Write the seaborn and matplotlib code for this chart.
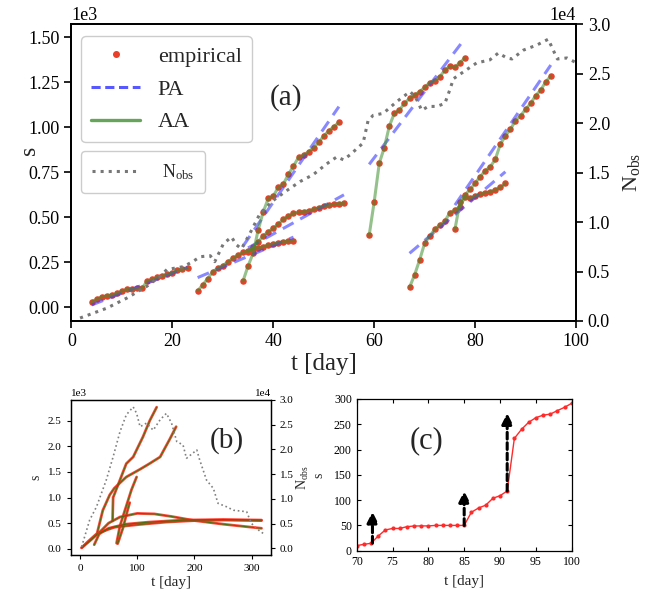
import numpy as np
import pandas as pd
import matplotlib
matplotlib.use("Agg")
import matplotlib.pyplot as plt
from matplotlib.lines import Line2D
from matplotlib.ticker import MultipleLocator
import seaborn as sns

# ---------------- panel (a) data (s in units of 1e3, N in units of 1e4) ----------------
seg_start = [4, 25, 35, 34, 59, 67, 76]
emp_1 = [0.030, 0.045, 0.058, 0.064, 0.068, 0.078, 0.090, 0.100, 0.100, 0.105,
         0.107, 0.146, 0.155, 0.166, 0.174, 0.183, 0.192, 0.206, 0.211, 0.218]
emp_2 = [0.092, 0.124, 0.160, 0.198, 0.217, 0.231, 0.253, 0.272, 0.290, 0.305,
         0.315, 0.325, 0.330, 0.337, 0.346, 0.352, 0.359, 0.364, 0.368, 0.370]
emp_3 = [0.310, 0.335, 0.365, 0.396, 0.420, 0.439, 0.463, 0.489, 0.507, 0.522,
         0.528, 0.531, 0.537, 0.544, 0.553, 0.563, 0.567, 0.572, 0.576, 0.578]
emp_4 = [0.146, 0.230, 0.300, 0.430, 0.530, 0.605, 0.618, 0.667, 0.685, 0.739,
         0.785, 0.833, 0.846, 0.865, 0.887, 0.917, 0.952, 0.981, 1.003, 1.028]
emp_5 = [0.400, 0.587, 0.800, 0.887, 1.007, 1.078, 1.096, 1.133, 1.161, 1.180,
         1.198, 1.222, 1.248, 1.259, 1.281, 1.318, 1.340, 1.333, 1.360, 1.386]
emp_6 = [0.111, 0.180, 0.263, 0.356, 0.396, 0.433, 0.457, 0.479, 0.526, 0.540,
         0.559, 0.614, 0.605, 0.618, 0.628, 0.637, 0.642, 0.652, 0.667, 0.689]
emp_7 = [0.433, 0.585, 0.625, 0.655, 0.690, 0.726, 0.759, 0.781, 0.822, 0.906,
         0.952, 0.989, 1.037, 1.064, 1.100, 1.133, 1.176, 1.207, 1.253, 1.285]
empirical = [emp_1, emp_2, emp_3, emp_4, emp_5, emp_6, emp_7]

pa_t0 = [4, 25, 35, 34, 59, 67, 76]
pa_t1 = [23, 44, 54, 53, 78, 86, 95]
pa_s0 = [0.013, 0.165, 0.330, 0.340, 0.794, 0.300, 0.568]
pa_s1 = [0.222, 0.390, 0.625, 1.115, 1.494, 0.753, 1.346]

nobs_t = [1.7, 7, 10.9, 14.9, 17.5, 18.9, 22.2, 24, 25.5, 27.5, 28.4, 30.1, 31.7, 32.7,
          33.7, 35.4, 37.4, 40, 42.7, 45.3, 47.9, 50.6, 52.6, 53.9, 55.2, 57.8, 58.8,
          59.8, 61.8, 64.5, 67.1, 68.1, 68.8, 69.4, 70.7, 72.4, 74, 75, 75.7, 77.7,
          80.3, 82.9, 84.6, 86.3, 87.3, 89.6, 92.2, 94.5, 95.2, 96.3, 98.2, 100.5]
nobs_v = [0.03, 0.13, 0.23, 0.35, 0.45, 0.52, 0.55, 0.60, 0.65, 0.66, 0.60, 0.78, 0.85, 0.77,
          0.73, 0.89, 1.09, 1.22, 1.32, 1.41, 1.48, 1.59, 1.66, 1.63, 1.68, 1.80, 2.03,
          2.08, 2.10, 2.22, 2.32, 2.27, 2.20, 2.13, 2.17, 2.17, 2.20, 2.34, 2.45, 2.52,
          2.61, 2.64, 2.71, 2.66, 2.65, 2.74, 2.79, 2.85, 2.77, 2.65, 2.66, 2.60]

# ---------------- panel (b) data ----------------
b_nobs_t = [3, 17, 29, 46, 58, 70, 81, 93, 99, 105, 116, 128, 140, 151, 160, 169, 180,
            186, 204, 209, 221, 233, 241, 256, 268, 291, 299, 308, 320]
b_nobs_v = [0.03, 0.57, 0.84, 1.38, 1.85, 2.36, 2.70, 2.86, 2.73, 2.46, 2.53, 2.39, 2.60,
            2.73, 2.53, 2.16, 2.09, 1.82, 1.99, 1.79, 1.38, 1.21, 0.91, 0.84, 0.77, 0.74,
            0.51, 0.40, 0.30]
b_t1 = [3, 15, 30, 40, 52, 60, 81, 105, 120, 140, 157, 168]
b_s1 = [0.02, 0.15, 0.30, 0.75, 1.05, 1.18, 1.40, 1.55, 1.65, 1.79, 2.14, 2.38]
b_t2 = [57, 58, 65, 81, 93, 110, 122, 134]
b_s2 = [0.55, 1.00, 1.20, 1.66, 1.79, 2.18, 2.50, 2.76]
b_t3 = [64, 70, 80, 90, 99]
b_s3 = [0.11, 0.45, 0.80, 1.15, 1.40]
b_t4 = [66, 75, 82, 87]
b_s4 = [0.10, 0.40, 0.70, 0.90]
b_t5 = [3, 20, 35, 50, 70, 100, 130, 160, 200, 250, 317]
b_s5 = [0.02, 0.18, 0.33, 0.50, 0.62, 0.69, 0.68, 0.63, 0.55, 0.48, 0.40]
b_t6 = [25, 35, 60, 100, 150, 200, 250, 317]
b_s6 = [0.08, 0.32, 0.42, 0.47, 0.52, 0.55, 0.56, 0.55]
b_t7 = [35, 50, 80, 120, 180, 250, 317]
b_s7 = [0.30, 0.40, 0.48, 0.52, 0.56, 0.57, 0.56]
b_curves = [(b_t1, b_s1), (b_t2, b_s2), (b_t3, b_s3), (b_t4, b_s4),
            (b_t5, b_s5), (b_t6, b_s6), (b_t7, b_s7)]

# ---------------- panel (c) data ----------------
c_t = list(range(70, 101))
c_s = [10, 12.6, 14.6, 29, 41, 44, 44, 47.5, 48.8, 49, 49, 50, 50, 50, 50, 50, 76, 84.4,
       90, 103.6, 108.8, 118, 222, 240, 254, 263, 268, 270, 277, 283.5, 291.5]
arrow_t = [72.2, 85.0, 91.0]
arrow_from = [15, 50, 118]
arrow_to = [77, 118, 272]

# ---------------- style ----------------
sns.set_theme(style="ticks")
plt.rcParams["font.family"] = ["Liberation Serif", "DejaVu Serif"]
plt.rcParams["mathtext.fontset"] = "custom"
plt.rcParams["mathtext.rm"] = "Liberation Serif"
plt.rcParams["mathtext.it"] = "Liberation Serif:italic"
plt.rcParams["axes.edgecolor"] = "black"
plt.rcParams["xtick.color"] = "black"
plt.rcParams["ytick.color"] = "black"

RED = "#e8402a"
PA_C = "#3b3bff"
AA_C = "#3f8f2f"
GRAY = "#777777"

fig = plt.figure(figsize=(6.47, 5.94), dpi=100)

# ================= panel (a) =================
ax = fig.add_axes([0.1105, 0.4596, 0.7798, 0.4994])
ax2 = ax.twinx()

for t0, vals in zip(seg_start, empirical):
    df = pd.DataFrame({"t": np.arange(t0, t0 + len(vals)), "s": np.array(vals) * 1000})
    sns.scatterplot(data=df, x="t", y="s", ax=ax, color=RED, s=22, linewidth=0, zorder=2)
for a, b, c, d in zip(pa_t0, pa_t1, pa_s0, pa_s1):
    ax.plot([a, b], [c * 1000, d * 1000], color=PA_C, ls=(0, (4, 2.5)), lw=2.2, alpha=0.6, zorder=3)
for t0, vals in zip(seg_start, empirical):
    df = pd.DataFrame({"t": np.arange(t0, t0 + len(vals)), "s": np.array(vals) * 1000})
    sns.lineplot(data=df, x="t", y="s", ax=ax, color=AA_C, lw=2.2, alpha=0.55, zorder=4)

ndf = pd.DataFrame({"t": nobs_t, "n": np.array(nobs_v) * 1e4})
sns.lineplot(data=ndf, x="t", y="n", ax=ax2, color=GRAY, lw=2.2, ls=":", sort=False, zorder=1)

ax.set_xlim(0, 100)
ax.set_ylim(-76, 1572)
ax2.set_ylim(0, 30000)
ax.xaxis.set_major_locator(MultipleLocator(20))
ax.yaxis.set_major_locator(MultipleLocator(250))
ax2.yaxis.set_major_locator(MultipleLocator(5000))
ax.ticklabel_format(axis="y", style="sci", scilimits=(0, 0))
ax2.ticklabel_format(axis="y", style="sci", scilimits=(0, 0))
for a_ in (ax, ax2):
    a_.tick_params(labelsize=13, length=5, width=1.2, direction="out")
    a_.yaxis.get_offset_text().set_fontsize(13)
    for sp in a_.spines.values():
        sp.set_linewidth(1.3)
        sp.set_visible(True)
ax.set_xlabel("t [day]", fontsize=18, labelpad=2)
ax.set_ylabel("s", fontsize=17)
ax.yaxis.set_label_coords(-0.062, 0.576)
ax2.set_ylabel(r"$\mathrm{N_{obs}}$", fontsize=16, labelpad=8)
ax2.set_xlabel("")
ax.text(42.5, 1168, "(a)", fontsize=21, ha="center", va="center")

h1 = [Line2D([], [], color=RED, marker="o", ls="none", markersize=4),
      Line2D([], [], color=PA_C, ls=(0, (3, 1.5)), lw=2.2, alpha=0.85),
      Line2D([], [], color=AA_C, lw=2.4, alpha=0.8)]
leg1 = ax2.legend(h1, ["empirical", "PA", "AA"], loc="upper left",
                  bbox_to_anchor=(0.019, 0.96), borderaxespad=0, fontsize=16,
                  handlelength=2.2, handletextpad=0.8, labelspacing=0.55,
                  borderpad=0.45, fancybox=True, framealpha=1, edgecolor="#cccccc")
ax2.add_artist(leg1)
h2 = [Line2D([], [], color=GRAY, ls=":", lw=2.2)]
ax2.legend(h2, [r"$\mathrm{N_{obs}}$"], loc="upper left", bbox_to_anchor=(0.019, 0.572),
           borderaxespad=0, fontsize=13, handlelength=2.6, handletextpad=1.3,
           borderpad=0.6, fancybox=True, framealpha=1, edgecolor="#cccccc")

# ================= panel (b) =================
bx = fig.add_axes([0.1093, 0.0657, 0.3091, 0.2609])
bx2 = bx.twinx()
for tt, ss in b_curves:
    df = pd.DataFrame({"t": tt, "s": np.array(ss) * 1000})
    sns.lineplot(data=df, x="t", y="s", ax=bx, color="#ff2a1a", lw=2.0, alpha=0.85)
    sns.lineplot(data=df, x="t", y="s", ax=bx, color="green", lw=0.8, alpha=0.7)
bdf = pd.DataFrame({"t": b_nobs_t, "n": np.array(b_nobs_v) * 1e4})
sns.lineplot(data=bdf, x="t", y="n", ax=bx2, color="gray", lw=1.2, ls=":", sort=False)
bx.set_xlim(-16, 333)
bx.set_ylim(-120, 2900)
bx2.set_ylim(-1350, 30000)
bx.xaxis.set_major_locator(MultipleLocator(100))
bx.yaxis.set_major_locator(MultipleLocator(500))
bx2.yaxis.set_major_locator(MultipleLocator(5000))
bx.ticklabel_format(axis="y", style="sci", scilimits=(0, 0))
bx2.ticklabel_format(axis="y", style="sci", scilimits=(0, 0))
for a_ in (bx, bx2):
    a_.tick_params(labelsize=8, length=3, width=0.8)
    a_.yaxis.get_offset_text().set_fontsize(8)
    for sp in a_.spines.values():
        sp.set_linewidth(0.9)
        sp.set_visible(True)
bx.set_xlabel("t [day]", fontsize=11, labelpad=2)
bx.set_ylabel("s", fontsize=10, labelpad=4)
bx2.set_ylabel(r"$\mathrm{N_{obs}}$", fontsize=10, labelpad=1)
bx.text(0.78, 0.74, "(b)", transform=bx.transAxes, fontsize=21, ha="center", va="center")

# ================= panel (c) =================
cx = fig.add_axes([0.5513, 0.0729, 0.3323, 0.2554])
cdf = pd.DataFrame({"t": c_t, "s": c_s})
sns.lineplot(data=cdf, x="t", y="s", ax=cx, color="#ff2a2a", lw=1.0, marker="o",
             markersize=3, markeredgewidth=0)
for t, y0, y1 in zip(arrow_t, arrow_from, arrow_to):
    cx.annotate("", xy=(t, y1), xytext=(t, y0),
                arrowprops=dict(arrowstyle="-|>", lw=2.2, ls=(0, (2.2, 1.2)), color="black",
                                mutation_scale=16, shrinkA=0, shrinkB=0))
cx.set_xlim(70, 100)
cx.set_ylim(0, 300)
cx.xaxis.set_major_locator(MultipleLocator(5))
cx.yaxis.set_major_locator(MultipleLocator(50))
cx.tick_params(labelsize=8.5, length=3, width=0.8, direction="in", top=True, right=True)
for sp in cx.spines.values():
    sp.set_linewidth(0.9)
    sp.set_visible(True)
cx.set_xlabel("t [day]", fontsize=11, labelpad=5)
cx.set_ylabel("s", fontsize=10, labelpad=6)
cx.text(79.7, 217, "(c)", fontsize=22, ha="center", va="center")

fig.savefig("out.png", dpi=100)
